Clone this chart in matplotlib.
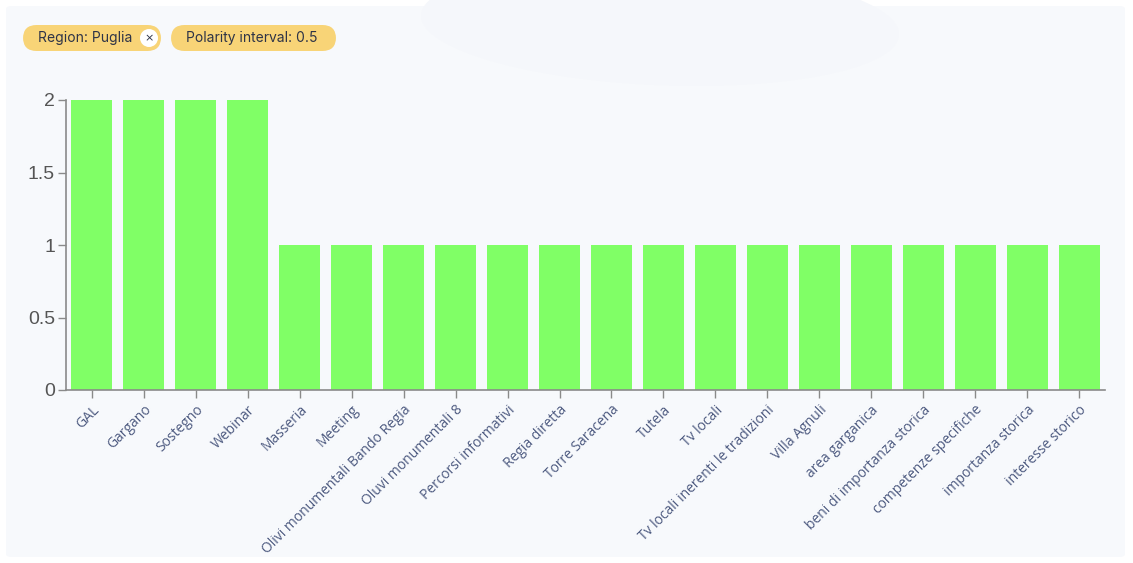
import matplotlib
matplotlib.use('Agg')
import matplotlib.pyplot as plt
from matplotlib.patches import FancyBboxPatch, Ellipse

# === DATA ===
categories = ['GAL', 'Gargano', 'Sostegno', 'Webinar', 'Masseria', 'Meeting',
              'Olivi monumentali Bando Regia', 'Oluvi monumentali 8',
              'Percorsi informativi', 'Regia diretta', 'Torre Saracena', 'Tutela',
              'Tv locali', 'Tv locali inerenti le tradizioni', 'Villa Agnuli',
              'area garganica', 'beni di importanza storica',
              'competenze specifiche', 'importanza storica', 'interesse storico']
counts = [2, 2, 2, 2, 1, 1, 1, 1, 1, 1, 1, 1, 1, 1, 1, 1, 1, 1, 1, 1]
y_ticks = [0, 0.5, 1, 1.5, 2]
y_tick_labels = ['0', '0.5', '1', '1.5', '2']
filters = ['Region: Puglia', 'Polarity interval: 0.5']

W, H = 1133, 563
fig = plt.figure(figsize=(W / 100, H / 100), dpi=100)
fig.patch.set_facecolor('white')

# panel background
panel = FancyBboxPatch((6 / W, 6 / H), 1119 / W, 551 / H,
                       boxstyle='round,pad=0,rounding_size=0.005',
                       transform=fig.transFigure, facecolor='#f7f9fc',
                       edgecolor='none', zorder=0)
fig.patches.append(panel)
blob = Ellipse((660 / W, 1 - 25 / H), 480 / W, 120 / H, angle=-6,
               transform=fig.transFigure, facecolor='#f5f7fb',
               edgecolor='none', zorder=0.5)
fig.patches.append(blob)

# === FILTER PILLS ===
pill_x = [23, 171]
pill_w = [138, 165]
for x0, w, label in zip(pill_x, pill_w, filters):
    pill = FancyBboxPatch((x0 / W, 1 - 51 / H), w / W, 26 / H,
                          boxstyle='round,pad=0,rounding_size=0.012',
                          mutation_aspect=W / H,
                          transform=fig.transFigure, facecolor='#f8d477',
                          edgecolor='none', zorder=2)
    fig.patches.append(pill)
    fig.text((x0 + 15) / W, 1 - 38 / H, label, fontsize=10, family='Inter',
             color='#2e3447', va='center', ha='left', zorder=3)
c = Ellipse((149 / W, 1 - 38 / H), 18 / W, 18 / H, transform=fig.transFigure,
            facecolor='white', edgecolor='none', zorder=3)
fig.patches.append(c)
fig.text(149 / W, 1 - 38.5 / H, '×', fontsize=8, color='#2e3447',
         ha='center', va='center', zorder=4)

# === BAR CHART ===
ax = fig.add_axes([66 / W, 1 - 390 / H, 1039 / W, 290 / H])
ax.set_zorder(5)
ax.set_facecolor('none')
x = list(range(len(categories)))
ax.bar(x, counts, width=0.79, color='#80ff66', zorder=2)
ax.set_xlim(-0.5, len(categories) - 0.5)
ax.set_ylim(0, 2)
ax.set_yticks(y_ticks)
ax.set_yticklabels(y_tick_labels, family='Liberation Sans', fontsize=14,
                   color='#555555')
ax.set_xticks(x)
ax.set_xticklabels(categories, rotation=45, ha='right',
                   rotation_mode='anchor', family='Open Sans', fontsize=10,
                   color='#4d5a80')
for s in ['top', 'right']:
    ax.spines[s].set_visible(False)
for s in ['left', 'bottom']:
    ax.spines[s].set_color('#8a8a8a')
    ax.spines[s].set_linewidth(1.2)
ax.tick_params(axis='both', length=6, color='#8a8a8a', width=1)
ax.tick_params(axis='y', pad=2)
ax.tick_params(axis='x', pad=3)

fig.savefig('out.png', dpi=100)
